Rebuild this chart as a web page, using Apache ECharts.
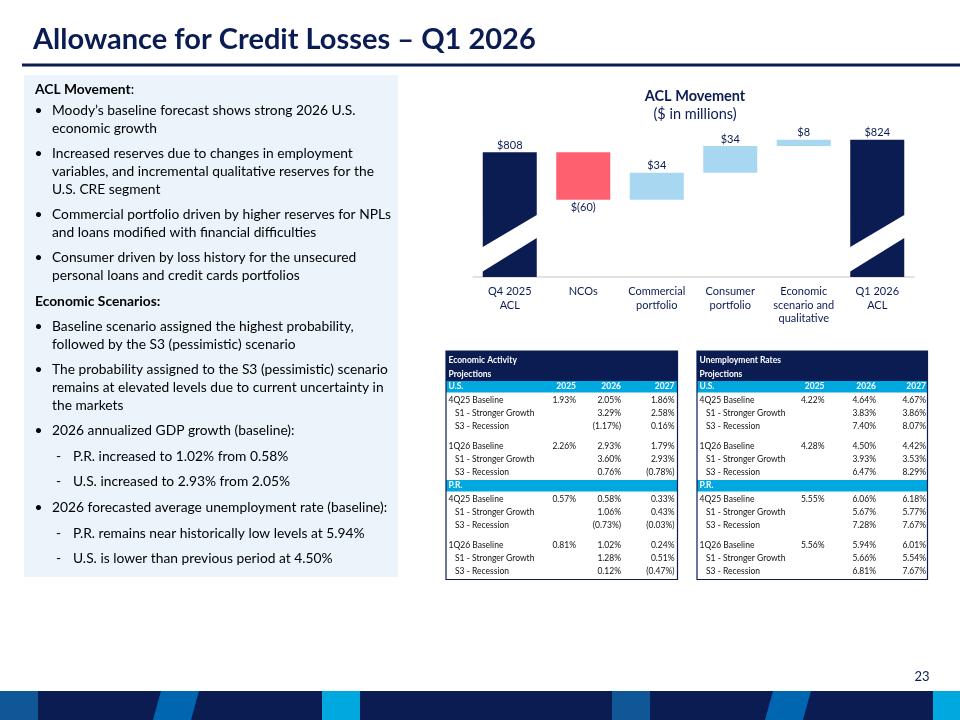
<!DOCTYPE html>
<html>
<head>
<meta charset="utf-8">
<script src="https://cdn.jsdelivr.net/npm/echarts@6/dist/echarts.min.js"></script>
<style>
  html, body { margin: 0; padding: 0; background: #fff; }
  #main { width: 960px; height: 720px; }
</style>
</head>
<body>
<div id="main"></div>
<script>
// waterfall data
const categories = ['Q4 2025\nACL', 'NCOs', 'Commercial\nportfolio', 'Consumer\nportfolio', 'Economic\nscenario and\nqualitative', 'Q1 2026\nACL']
const startAcl = 808
const endAcl = 824
const movements = [-60, 34, 34, 8]
const valueLabels = ['$808', '$(60)', '$34', '$34', '$8', '$824']

// projection tables
const yearCols = ['2025', '2026', '2027']
const gdpUsRows = [
  ['4Q25 Baseline', '1.93%', '2.05%', '1.86%'],
  ['S1 - Stronger Growth', '', '3.29%', '2.58%'],
  ['S3 - Recession', '', '(1.17%)', '0.16%'],
  ['1Q26 Baseline', '2.26%', '2.93%', '1.79%'],
  ['S1 - Stronger Growth', '', '3.60%', '2.93%'],
  ['S3 - Recession', '', '0.76%', '(0.78%)']
]
const gdpPrRows = [
  ['4Q25 Baseline', '0.57%', '0.58%', '0.33%'],
  ['S1 - Stronger Growth', '', '1.06%', '0.43%'],
  ['S3 - Recession', '', '(0.73%)', '(0.03%)'],
  ['1Q26 Baseline', '0.81%', '1.02%', '0.24%'],
  ['S1 - Stronger Growth', '', '1.28%', '0.51%'],
  ['S3 - Recession', '', '0.12%', '(0.47%)']
]
const unempUsRows = [
  ['4Q25 Baseline', '4.22%', '4.64%', '4.67%'],
  ['S1 - Stronger Growth', '', '3.83%', '3.86%'],
  ['S3 - Recession', '', '7.40%', '8.07%'],
  ['1Q26 Baseline', '4.28%', '4.50%', '4.42%'],
  ['S1 - Stronger Growth', '', '3.93%', '3.53%'],
  ['S3 - Recession', '', '6.47%', '8.29%']
]
const unempPrRows = [
  ['4Q25 Baseline', '5.55%', '6.06%', '6.18%'],
  ['S1 - Stronger Growth', '', '5.67%', '5.77%'],
  ['S3 - Recession', '', '7.28%', '7.67%'],
  ['1Q26 Baseline', '5.56%', '5.94%', '6.01%'],
  ['S1 - Stronger Growth', '', '5.66%', '5.54%'],
  ['S3 - Recession', '', '6.81%', '7.67%']
]

// left panel text
const panelBlocks = [
  {kind: 'head', lines: ['ACL Movement'], suffix: ':'},
  {kind: 'bullet', lines: ['Moody\u2019s baseline forecast shows strong 2026 U.S.', 'economic growth']},
  {kind: 'bullet', lines: ['Increased reserves due to changes in employment', 'variables, and incremental qualitative reserves for the', 'U.S. CRE segment']},
  {kind: 'bullet', lines: ['Commercial portfolio driven by higher reserves for NPLs', 'and loans modified with financial difficulties']},
  {kind: 'bullet', lines: ['Consumer driven by loss history for the unsecured', 'personal loans and credit cards portfolios']},
  {kind: 'head', lines: ['Economic Scenarios:']},
  {kind: 'bullet', lines: ['Baseline scenario assigned the highest probability,', 'followed by the S3 (pessimistic) scenario']},
  {kind: 'bullet', lines: ['The probability assigned to the S3 (pessimistic) scenario', 'remains at elevated levels due to current uncertainty in', 'the markets']},
  {kind: 'bullet', lines: ['2026 annualized GDP growth (baseline):']},
  {kind: 'dash', lines: ['P.R. increased to 1.02% from 0.58%']},
  {kind: 'dash', lines: ['U.S. increased to 2.93% from 2.05%']},
  {kind: 'bullet', lines: ['2026 forecasted average unemployment rate (baseline):']},
  {kind: 'dash', lines: ['P.R. remains near historically low levels at 5.94%']},
  {kind: 'dash', lines: ['U.S. is lower than previous period at 4.50%']}
]

const NAVY = '#0b1c53'
const RED = '#ff6070'
const LIGHT = '#a7d7f1'
const CYAN = '#00a8e0'
const FONT = 'Lato, "Open Sans", sans-serif'
const Y_MIN = 650
const BODY = '13.8px ' + FONT

// waterfall bars: [category index, low, high]
const bars = []
const kinds = []
bars.push([0, Y_MIN, startAcl]); kinds.push('total')
let running = startAcl
movements.forEach((m, i) => {
  bars.push([i + 1, Math.min(running, running + m), Math.max(running, running + m)])
  kinds.push(m < 0 ? 'neg' : 'pos')
  running += m
})
bars.push([categories.length - 1, Y_MIN, endAcl]); kinds.push('total')

function renderBar(params, api) {
  const i = api.value(0)
  const lo = api.coord([i, api.value(1)])
  const hi = api.coord([i, api.value(2)])
  const bw = api.size([1, 0])[0] * 0.735
  const x0 = lo[0] - bw / 2, x1 = lo[0] + bw / 2
  const yb = lo[1], yt = hi[1]
  const kind = kinds[params.dataIndex]
  const children = []
  if (kind === 'total') {
    // bar with a diagonal break near the bottom
    children.push({type: 'polygon', shape: {points: [[x0, yb], [x1, yb], [x1, yb - 39], [x0, yb - 5.5]]}, style: {fill: NAVY}})
    children.push({type: 'polygon', shape: {points: [[x0, yb - 30], [x1, yb - 62], [x1, yt], [x0, yt]]}, style: {fill: NAVY}})
  } else {
    children.push({type: 'rect', shape: {x: x0, y: yt, width: bw, height: yb - yt}, style: {fill: kind === 'neg' ? RED : LIGHT}})
  }
  const below = kind === 'neg'
  children.push({
    type: 'text',
    style: {
      text: valueLabels[params.dataIndex],
      x: lo[0], y: below ? yb + 7.5 : yt - 7,
      align: 'center', verticalAlign: 'middle',
      fill: NAVY, font: '11px ' + FONT
    }
  })
  return {type: 'group', children}
}

// ---------- slide decorations (graphic) ----------
const graphics = []

// title
graphics.push({type: 'text', x: 33, y: 40, style: {text: 'Allowance for Credit Losses \u2013 Q1 2026', font: 'bold 29px ' + FONT, fill: NAVY, verticalAlign: 'middle'}})
graphics.push({type: 'rect', shape: {x: 22, y: 63.5, width: 938, height: 3}, style: {fill: NAVY}})

// left panel
graphics.push({type: 'rect', shape: {x: 24, y: 75, width: 374, height: 502}, style: {fill: '#eaf4fa'}, z: -1})
let py = 90
const LINE_H = 17.6, PARA = 25.6
panelBlocks.forEach((b, bi) => {
  if (bi > 0) py += (bi === 1 ? 20.7 : PARA)
  b.lines.forEach((ln, li) => {
    if (li > 0) py += LINE_H
    if (b.kind === 'head') {
      graphics.push({type: 'text', x: 35, y: py, style: {
        text: b.suffix ? '{b|' + ln + '}' + b.suffix : '{b|' + ln + '}',
        font: BODY, fill: '#000', verticalAlign: 'middle',
        rich: {b: {fontWeight: 'bold', fontSize: 13.8, fontFamily: FONT, fill: '#000'}}
      }})
    } else {
      const tx = b.kind === 'bullet' ? 52 : 73
      if (li === 0) {
        graphics.push({type: 'text', x: b.kind === 'bullet' ? 34.5 : 56, y: py, style: {text: b.kind === 'bullet' ? '\u2022' : '-', font: BODY, fill: '#000', verticalAlign: 'middle'}})
      }
      graphics.push({type: 'text', x: tx, y: py, style: {text: ln, font: BODY, fill: '#000', verticalAlign: 'middle'}})
    }
  })
})

// tables
function buildTable(x0, x1, head1, colRight, usRows, prRows) {
  const top = 351, ROW = 13.3, GAP = 6, BAND = 11.5
  const out = []
  const w = x1 - x0
  out.push({type: 'rect', shape: {x: x0, y: top, width: w, height: 30}, style: {fill: NAVY}})
  out.push({type: 'text', x: x0 + 2.5, y: top + 9.7, style: {text: head1, font: 'bold 8.5px ' + FONT, fill: '#fff', verticalAlign: 'middle'}})
  out.push({type: 'text', x: x0 + 2.5, y: top + 23, style: {text: 'Projections', font: 'bold 8.5px ' + FONT, fill: '#fff', verticalAlign: 'middle'}})
  let y = top + 30
  const groups = [['U.S.', usRows], ['P.R.', prRows]]
  groups.forEach(([name, rows], gi) => {
    if (gi > 0) y += 0.6
    out.push({type: 'rect', shape: {x: x0, y: y, width: w, height: BAND}, style: {fill: CYAN}})
    out.push({type: 'text', x: x0 + 2.5, y: y + BAND / 2, style: {text: name, font: 'bold 8.5px ' + FONT, fill: '#fff', verticalAlign: 'middle'}})
    if (gi === 0) {
      yearCols.forEach((c, ci) => {
        out.push({type: 'text', x: colRight[ci], y: y + BAND / 2, style: {text: c, font: 'bold 8.5px ' + FONT, fill: '#fff', align: 'right', verticalAlign: 'middle'}})
      })
    }
    let ry = y + BAND + 7.5
    rows.forEach((r, ri) => {
      if (ri === 3) ry += GAP
      const indent = r[0].startsWith('S') ? 9 : 2.5
      out.push({type: 'text', x: x0 + indent, y: ry, style: {text: r[0], font: '8.5px ' + FONT, fill: '#111', verticalAlign: 'middle'}})
      for (let ci = 1; ci < 4; ci++) {
        if (r[ci]) out.push({type: 'text', x: colRight[ci - 1], y: ry, style: {text: r[ci], font: '8.5px ' + FONT, fill: '#111', align: 'right', verticalAlign: 'middle'}})
      }
      ry += ROW
    })
    y = ry - ROW + 6.8
  })
  out.push({type: 'rect', shape: {x: x0, y: top, width: w, height: y + 1.3 - top}, style: {fill: 'none', stroke: NAVY, lineWidth: 1.2}})
  return out
}
graphics.push(...buildTable(446, 677.5, 'Economic Activity', [576, 621, 674.5], gdpUsRows, gdpPrRows))
graphics.push(...buildTable(697, 927.5, 'Unemployment Rates', [824.5, 876, 926], unempUsRows, unempPrRows))

// page number + footer band
graphics.push({type: 'text', x: 922, y: 677, style: {text: '23', font: '13px ' + FONT, fill: NAVY, align: 'center', verticalAlign: 'middle'}})
graphics.push({type: 'rect', shape: {x: 0, y: 691, width: 960, height: 29}, style: {fill: NAVY}})
const footerBlocks = [[0, '#0f5797'], [612, '#0f5797']]
footerBlocks.forEach(([x, c]) => graphics.push({type: 'rect', shape: {x: x, y: 691, width: 38, height: 29}, style: {fill: c}}))
;[322, 933].forEach(x => graphics.push({type: 'rect', shape: {x: x, y: 691, width: 38, height: 29}, style: {fill: CYAN}}))
;[153, 765].forEach(x => graphics.push({type: 'polygon', shape: {points: [[x + 8, 691], [x + 46, 691], [x + 38, 720], [x, 720]]}, style: {fill: '#0066b0'}}))

const chart = echarts.init(document.getElementById('main'), null, {renderer: 'canvas'})
const option = {
  backgroundColor: '#fff',
  animation: false,
  title: {
    text: 'ACL Movement',
    subtext: '($ in millions)',
    left: 690, top: 84, textAlign: 'center',
    itemGap: 3,
    textStyle: {fontFamily: FONT, fontSize: 14.5, fontWeight: 'bold', color: NAVY},
    subtextStyle: {fontFamily: FONT, fontSize: 14.5, color: NAVY}
  },
  grid: {left: 473, top: 135, width: 441, height: 142},
  xAxis: {
    type: 'category',
    data: categories,
    axisLine: {lineStyle: {color: '#d9d9d9', width: 1.5}},
    axisTick: {show: false},
    axisLabel: {interval: 0, color: NAVY, fontFamily: FONT, fontSize: 11, lineHeight: 13.5, margin: 8}
  },
  yAxis: {type: 'value', min: Y_MIN, max: 830, show: false, splitLine: {show: false}},
  series: [{
    type: 'custom',
    renderItem: renderBar,
    encode: {x: 0, y: [1, 2]},
    data: bars,
    z: 3
  }],
  graphic: graphics
}
chart.setOption(option)
</script>
</body>
</html>
